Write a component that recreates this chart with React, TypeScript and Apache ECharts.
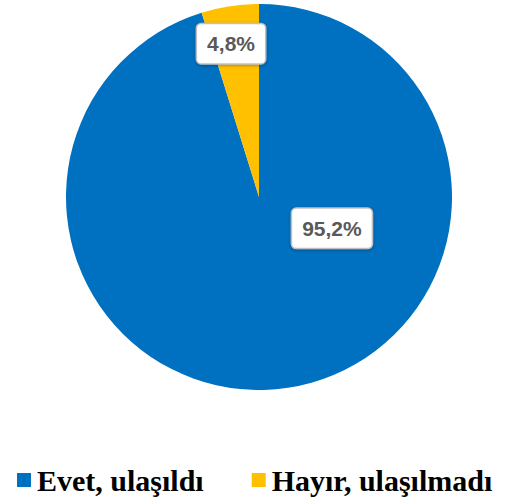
import React, { useEffect, useRef } from "react";
import * as echarts from "echarts";

const categories = ["Evet, ulaşıldı", "Hayır, ulaşılmadı"];
const values = [95.2, 4.8];
const colors = ["#0070C0", "#FFC000"];
const labelTexts = ["95,2%", "4,8%"];
const labelShift = [
  [58, -67],
  [-13, -55],
];

export default function App() {
  const ref = useRef<HTMLDivElement>(null);
  useEffect(() => {
    document.body.style.margin = "0";
    const chart = echarts.init(ref.current!, null, { renderer: "svg" });
    chart.setOption({
      animation: false,
      legend: {
        left: 12,
        top: 459,
        icon: "rect",
        itemWidth: 14,
        itemHeight: 14,
        itemGap: 48,
        selectedMode: false,
        textStyle: {
          fontFamily: "Liberation Serif",
          fontWeight: "bold",
          fontSize: 30,
          lineHeight: 32,
          color: "#000",
          padding: [0, 0, 0, 1],
        },
        data: categories,
      },
      series: [
        {
          type: "pie",
          center: [259, 197],
          radius: 193,
          startAngle: 90,
          clockwise: true,
          avoidLabelOverlap: false,
          data: categories.map((c, i) => ({
            name: c,
            value: values[i],
            itemStyle: { color: colors[i] },
          })),
          label: {
            show: true,
            position: "inside",
            formatter: (p: any) => labelTexts[p.dataIndex],
            fontFamily: "Liberation Sans",
            fontWeight: "bold",
            fontSize: 21,
            color: "#595959",
            backgroundColor: "#fff",
            borderColor: "#BFBFBF",
            borderWidth: 1.5,
            borderRadius: 4,
            padding: [9, 10, 9, 10],
            shadowBlur: 3,
            shadowColor: "rgba(0,0,0,0.3)",
            shadowOffsetY: 1,
          },
          labelLayout: (p: any) => ({
            dx: labelShift[p.dataIndex][0],
            dy: labelShift[p.dataIndex][1],
          }),
          labelLine: { show: false },
          emphasis: { disabled: true },
        },
      ],
    });
    return () => chart.dispose();
  }, []);
  return <div ref={ref} style={{ width: 517, height: 499 }} />;
}
